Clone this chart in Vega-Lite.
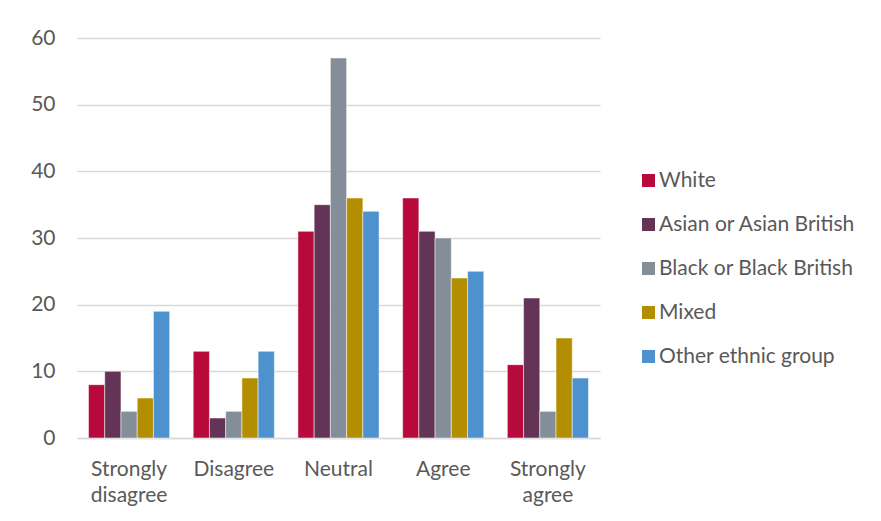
{
  "$schema": "https://vega.github.io/schema/vega-lite/v6.json",
  "autosize": {"type": "none"},
  "padding": {"left": 77, "top": 38, "right": 281, "bottom": 83},
  "width": 523,
  "height": 400,
  "background": "white",
  "data": {
    "values": [
      {"response": "Strongly disagree", "group": "White", "percent": 8},
      {"response": "Strongly disagree", "group": "Asian or Asian British", "percent": 10},
      {"response": "Strongly disagree", "group": "Black or Black British", "percent": 4},
      {"response": "Strongly disagree", "group": "Mixed", "percent": 6},
      {"response": "Strongly disagree", "group": "Other ethnic group", "percent": 19},
      {"response": "Disagree", "group": "White", "percent": 13},
      {"response": "Disagree", "group": "Asian or Asian British", "percent": 3},
      {"response": "Disagree", "group": "Black or Black British", "percent": 4},
      {"response": "Disagree", "group": "Mixed", "percent": 9},
      {"response": "Disagree", "group": "Other ethnic group", "percent": 13},
      {"response": "Neutral", "group": "White", "percent": 31},
      {"response": "Neutral", "group": "Asian or Asian British", "percent": 35},
      {"response": "Neutral", "group": "Black or Black British", "percent": 57},
      {"response": "Neutral", "group": "Mixed", "percent": 36},
      {"response": "Neutral", "group": "Other ethnic group", "percent": 34},
      {"response": "Agree", "group": "White", "percent": 36},
      {"response": "Agree", "group": "Asian or Asian British", "percent": 31},
      {"response": "Agree", "group": "Black or Black British", "percent": 30},
      {"response": "Agree", "group": "Mixed", "percent": 24},
      {"response": "Agree", "group": "Other ethnic group", "percent": 25},
      {"response": "Strongly agree", "group": "White", "percent": 11},
      {"response": "Strongly agree", "group": "Asian or Asian British", "percent": 21},
      {"response": "Strongly agree", "group": "Black or Black British", "percent": 4},
      {"response": "Strongly agree", "group": "Mixed", "percent": 15},
      {"response": "Strongly agree", "group": "Other ethnic group", "percent": 9}
    ]
  },
  "mark": {"type": "bar", "stroke": "white", "strokeWidth": 0.5},
  "encoding": {
    "x": {
      "field": "response",
      "type": "nominal",
      "sort": ["Strongly disagree", "Disagree", "Neutral", "Agree", "Strongly agree"],
      "scale": {"paddingInner": 0.225, "paddingOuter": 0.11},
      "axis": {
        "title": null,
        "labelAngle": 0,
        "labelExpr": "split(datum.label, ' ')",
        "labelLineHeight": 26,
        "labelPadding": 20,
        "ticks": false,
        "domainColor": "#D9D9D9",
        "domainWidth": 1.5
      }
    },
    "xOffset": {
      "field": "group",
      "type": "nominal",
      "sort": ["White", "Asian or Asian British", "Black or Black British", "Mixed", "Other ethnic group"]
    },
    "y": {
      "field": "percent",
      "type": "quantitative",
      "scale": {"domain": [0, 60]},
      "axis": {
        "title": null,
        "values": [0, 10, 20, 30, 40, 50, 60],
        "domain": false,
        "ticks": false,
        "labelPadding": 22,
        "gridColor": "#D9D9D9",
        "gridWidth": 1.3
      }
    },
    "color": {
      "field": "group",
      "type": "nominal",
      "scale": {
        "domain": ["White", "Asian or Asian British", "Black or Black British", "Mixed", "Other ethnic group"],
        "range": ["#B80A3A", "#633455", "#848E98", "#B38E00", "#4E91CF"]
      },
      "legend": {
        "title": null,
        "orient": "none",
        "legendX": 561,
        "legendY": 132,
        "symbolType": "square",
        "symbolSize": 169,
        "symbolStrokeWidth": 0,
        "rowPadding": 22,
        "labelOffset": 0
      }
    }
  },
  "config": {
    "view": {"stroke": null},
    "font": "Lato",
    "axis": {"labelFont": "Lato", "labelFontSize": 21, "labelColor": "#595959"},
    "legend": {"labelFont": "Lato", "labelFontSize": 21, "labelColor": "#595959", "labelLimit": 300}
  }
}
